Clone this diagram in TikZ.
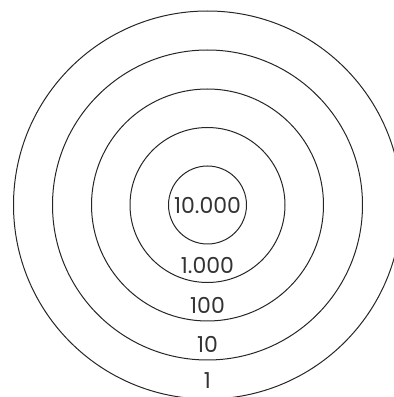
\documentclass[tikz,border=0pt]{standalone}
\usepackage{fontspec}
\setmainfont{Poppins}
\usetikzlibrary{positioning, calc}

\tikzset{
  ring/.style={draw=black!85, line width=1pt},
  lbl/.style={font=\fontsize{22}{26}\selectfont, text=black!80, inner sep=0pt}
}

\begin{document}
\begin{tikzpicture}[x=1pt, y=1pt]
  \clip (0,0) rectangle (394,397);
  \useasboundingbox (0,0) rectangle (394,397);
  \coordinate (ctr) at (207.5,192);
  % rings, inner to outer
  \foreach \r in {39,77.5,116,155,194}
    \draw[ring] (ctr) circle (\r);
  \node[lbl] (l10000) at (ctr) {10.000};
  \node[lbl] (l1000) at ($(ctr)+(0,-60)$) {1.000};
  \node[lbl] (l100) at ($(ctr)+(0,-100)$) {100};
  \node[lbl] (l10) at ($(ctr)+(0,-139)$) {10};
  \node[lbl] (l1) at ($(ctr)+(0,-176)$) {1};
\end{tikzpicture}
\end{document}
